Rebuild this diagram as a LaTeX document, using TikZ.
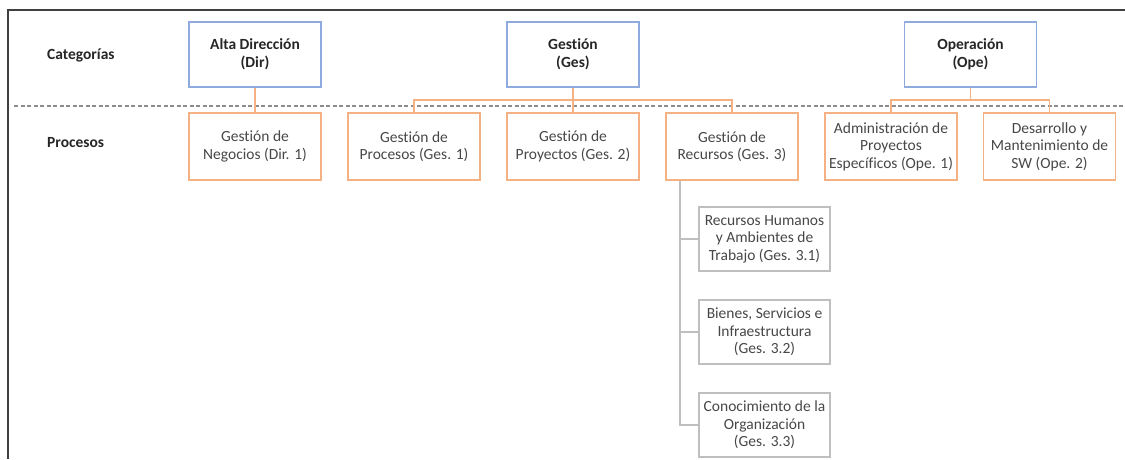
\documentclass[tikz,border=0pt]{standalone}
\usepackage{fontspec}
\setmainfont{Carlito}[Ligatures=NoCommon]
\begin{document}
\begin{tikzpicture}[x=1pt,y=-1pt,
  every node/.style={font=\fontsize{15.5}{17.5}\selectfont, align=center, inner sep=0pt},
  catbox/.style={draw=catblue, line width=1.4pt, minimum width=132pt, minimum height=65pt,
    text=black!85, font=\bfseries\fontsize{15.5}{18}\selectfont},
  procbox/.style={draw=procorange, line width=1.4pt, minimum width=132pt, minimum height=67pt,
    text=black!72},
  subbox/.style={draw=subgray, line width=1.2pt, minimum width=131pt, minimum height=64pt,
    text=black!72},
  rowlabel/.style={anchor=west, text=black!85, font=\bfseries\fontsize{15.5}{18}\selectfont},
  orangelink/.style={draw=procorange, line width=1.4pt},
  graylink/.style={draw=subgray, line width=1.2pt}
]
\definecolor{catblue}{HTML}{8FAADC}
\definecolor{procorange}{HTML}{F4B183}
\definecolor{subgray}{HTML}{BFBFBF}
\definecolor{framegray}{HTML}{404040}
\definecolor{sepgray}{HTML}{8C8C8C}

\useasboundingbox (0,0) rectangle (1125,459);

% outer frame (top and left edges) and level separator
\draw[framegray, line width=1.5pt] (8,459) -- (8,10) -- (1125,10);
\draw[sepgray, line width=1.2pt, dash pattern=on 4pt off 2.5pt] (14,106) -- (1125,106);

% row labels
\node[rowlabel] (lcat) at (47,55) {Categorías};
\node[rowlabel] (lproc) at (47,143) {Procesos};

% categories
\node[catbox] (dir) at (255,54.5) {Alta Dirección\\(Dir)};
\node[catbox] (ges) at (573,54.5) {Gestión\\(Ges)};
\node[catbox] (ope) at (970.5,54.5) {Operación\\(Ope)};

% processes
\node[procbox] (d1) at (255,146.5) {Gestión de\\Negocios (Dir. 1)};
\node[procbox] (g1) at (414,146.5) {Gestión de\\Procesos (Ges. 1)};
\node[procbox] (g2) at (573,146.5) {Gestión de\\Proyectos (Ges. 2)};
\node[procbox] (g3) at (732,146.5) {Gestión de\\Recursos (Ges. 3)};
\node[procbox] (o1) at (891,146.5) {Administración de\\Proyectos\\Específicos (Ope. 1)};
\node[procbox] (o2) at (1049.5,146.5) {Desarrollo y\\Mantenimiento de\\SW (Ope. 2)};

% sub-processes of Ges. 3
\node[subbox] (r1) at (764.5,239) {Recursos Humanos\\y Ambientes de\\Trabajo (Ges. 3.1)};
\node[subbox] (r2) at (764.5,332) {Bienes, Servicios e\\Infraestructura\\(Ges. 3.2)};
\node[subbox] (r3) at (764.5,425) {Conocimiento de la\\Organización\\(Ges. 3.3)};

% category to process links
\coordinate (gbus) at (573,100);
\coordinate (obus) at (970.5,100);
\draw[orangelink] (dir.south) -- (d1.north);
\draw[orangelink] (ges.south) -- (gbus);
\draw[orangelink] (g1.north) |- (gbus) -| (g3.north);
\draw[orangelink] (gbus) -- (g2.north);
\draw[orangelink] (ope.south) -- (obus);
\draw[orangelink] (o1.north) |- (obus) -| (o2.north);

% Ges. 3 breakdown
\coordinate (trunk) at (680,180.5);
\draw[graylink] (trunk) |- (r3.west);
\draw[graylink] (trunk) |- (r1.west);
\draw[graylink] (trunk) |- (r2.west);
\end{tikzpicture}
\end{document}
